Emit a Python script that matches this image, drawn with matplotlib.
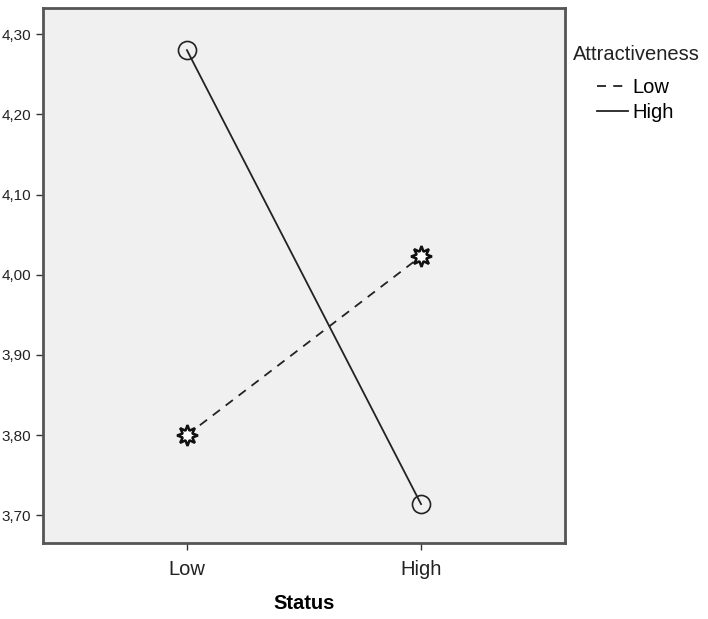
import matplotlib
matplotlib.use("Agg")
import matplotlib.pyplot as plt
import numpy as np

plt.rcParams["font.family"] = ["Liberation Sans", "DejaVu Sans"]

# Data
status = ["Low", "High"]
attr_low = [3.800, 4.023]
attr_high = [4.280, 3.714]
y_ticks = [3.70, 3.80, 3.90, 4.00, 4.10, 4.20, 4.30]
y_labels = ["3,70", "3,80", "3,90", "4,00", "4,10", "4,20", "4,30"]

x = np.arange(len(status))

fig = plt.figure(figsize=(7.08, 6.19), dpi=100)
ax = fig.add_axes([0.0607, 0.1228, 0.7373, 0.8642])
ax.set_facecolor("#f0f0f0")

ax.plot(x, attr_low, color="#222222", lw=1.3, ls=(0, (5, 4)),
        marker=(8, 1, 0), ms=15, mfc="white", mec="#111111", mew=1.8,
        label="Low")
ax.plot(x, attr_high, color="#222222", lw=1.3, ls="-",
        marker="o", ms=13, mfc="none", mec="#222222", mew=1.2,
        label="High")

ax.set_xlim(-0.615, 1.615)
ax.set_ylim(3.6655, 4.3325)
ax.set_xticks(x)
ax.set_xticklabels(status, fontsize=14.5, color="#222222")
ax.set_yticks(y_ticks)
ax.set_yticklabels(y_labels, fontsize=11, color="#222222")
ax.tick_params(axis="both", length=5, width=1, color="#333333")
ax.tick_params(axis="x", pad=7)
ax.set_xlabel("Status", fontsize=14.5, fontweight="bold", labelpad=11)

for s in ax.spines.values():
    s.set_color("#555555")
    s.set_linewidth(2)

# legend: title as separate text, entries indented below it
fig.text(573 / 708, 1 - 55 / 619, "Attractiveness", fontsize=14.5,
         color="#222222", ha="left", va="center")
leg = ax.legend(loc="upper left", bbox_to_anchor=(597 / 708, 1 - 78 / 619),
                bbox_transform=fig.transFigure, frameon=False,
                fontsize=14.5, handlelength=1.55, handletextpad=0.2,
                labelspacing=0.3, borderaxespad=0, borderpad=0)
for h in leg.legend_handles:
    h.set_marker("")

fig.savefig("out.png", dpi=100)
